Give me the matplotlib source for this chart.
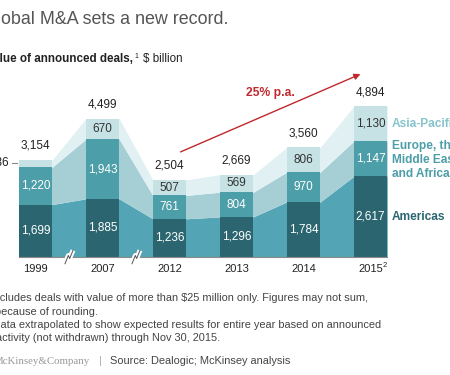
import matplotlib
matplotlib.use("Agg")
import matplotlib.pyplot as plt
import numpy as np
from matplotlib.patches import FancyArrowPatch

plt.rcParams['font.family'] = ['Liberation Sans', 'DejaVu Sans']

years = ["1999", "2007", "2012", "2013", "2014", "2015"]
americas = [1699, 1885, 1236, 1296, 1784, 2617]
emea = [1220, 1943, 761, 804, 970, 1147]
apac = [236, 670, 507, 569, 806, 1130]
totals = [3154, 4499, 2504, 2669, 3560, 4894]
series_names = ["Americas", "Europe, the\nMiddle East\nand Africa", "Asia-Pacific"]

W, H = 450, 375
fig = plt.figure(figsize=(W / 100, H / 100), dpi=100)
fig.patch.set_facecolor("white")

def fpx(x, y):
    return x / W, 1 - y / H

def ftext(x, y, s, **kw):
    fx, fy = fpx(x, y)
    return fig.text(fx, fy, s, **kw)

# axes: bar centres at 35.5 + 67*i px, baseline at 256.7 px, 0.0307 px per unit
left_px, width_px = 2, 402
base_px = 256.7
ymax = 5000
height_px = ymax * 0.0307
ax = fig.add_axes([left_px / W, (H - base_px) / H, width_px / W, height_px / H])
ax.set_xlim(-0.5, 5.5)
ax.set_ylim(0, ymax)
ax.axis("off")

bar_cols = ["#2b6670", "#4c9ea8", "#c6e2e5"]
fill_cols = ["#53a4b4", "#a6cfd5", "#e1f0f2"]

n = len(years)
xc = np.arange(n)
bw = 0.5
a = np.array(americas, float)
e = np.array(emea, float)
p = np.array(apac, float)
layers = [a, a + e, a + e + p]

xs = np.ravel(np.column_stack([xc - bw / 2, xc + bw / 2]))
prev = np.zeros(2 * n)
for k, top in enumerate(layers):
    t = np.repeat(top, 2)
    ax.fill_between(xs, prev, t, color=fill_cols[k], lw=0, zorder=1)
    prev = t

bottoms = [np.zeros(n), a, a + e]
vals = [a, e, p]
for k in range(3):
    ax.bar(xc, vals[k], bottom=bottoms[k], width=bw, color=bar_cols[k], lw=0, zorder=2)

# baseline
ax.plot([-bw / 2, n - 1 + bw / 2], [0, 0], color="#8a8a8a", lw=0.8, zorder=3, clip_on=False)

fs_in = 8.5
for i in range(n):
    ax.text(xc[i], a[i] / 2, f"{americas[i]:,}", ha="center", va="center", color="white", fontsize=fs_in, zorder=4)
    ax.text(xc[i], a[i] + e[i] / 2, f"{emea[i]:,}", ha="center", va="center", color="white", fontsize=fs_in, zorder=4)
    if i > 0:
        ax.text(xc[i], a[i] + e[i] + p[i] / 2, f"{apac[i]:,}", ha="center", va="center", color="#333333",
                fontsize=fs_in, zorder=4)
    ax.annotate(f"{totals[i]:,}", (xc[i], a[i] + e[i] + p[i]), xytext=(0, 10), textcoords="offset points",
                ha="center", va="center", color="#222222", fontsize=fs_in, zorder=4)
    ax.annotate(years[i], (xc[i], 0), xytext=(0, -8.5), textcoords="offset points", ha="center", va="center",
                color="#222222", fontsize=8)
ax.annotate("2", (xc[-1], 0), xytext=(8.5, -6), textcoords="offset points", ha="left", va="center",
            color="#222222", fontsize=5.5)

# 1999 asia-pacific label with leader
ymid = a[0] + e[0] + p[0] / 2
ax.plot([-0.35, -0.27], [ymid, ymid], color="#888888", lw=0.8, clip_on=False)
ax.text(-0.40, ymid, f"{apac[0]:,}", ha="right", va="center", color="#222222", fontsize=fs_in)

# break marks
for xb in [0.5, 1.5]:
    zx = [xb - 0.06, xb - 0.01, xb + 0.01, xb + 0.06]
    zy = [-230, 40, -60, 210]
    ax.plot(zx, zy, color="white", lw=3.5, zorder=5, clip_on=False, solid_capstyle="butt")
    ax.plot(zx, zy, color="#555555", lw=0.7, zorder=6, clip_on=False)

# legend labels on right
ftext(392, 124, series_names[2], color="#86c3cc", fontsize=8.6, fontweight="bold", va="center", ha="left")
ftext(392, 160, series_names[1], color="#4c9ea8", fontsize=8.6, fontweight="bold", va="center", ha="left",
      linespacing=1.22)
ftext(392, 217, series_names[0], color="#2b6670", fontsize=8.6, fontweight="bold", va="center", ha="left")

# arrow
fa = FancyArrowPatch(fpx(178, 153), fpx(363, 73), transform=fig.transFigure, arrowstyle="-|>",
                     mutation_scale=9, color="#c0282d", lw=1.0)
fig.add_artist(fa)
ftext(270, 93, "25% p.a.", color="#c0282d", fontsize=8.7, fontweight="bold", ha="center", va="center")

# titles
ftext(228, 20, "Global M&A sets a new record.", color="#555555", fontsize=12.9, ha="right", va="center")
ftext(133, 59, "Value of announced deals,", color="#222222", fontsize=8.4, fontweight="bold", ha="right", va="center")
ftext(134, 56, "1", color="#222222", fontsize=5, ha="left", va="center")
ftext(143, 59, "$ billion", color="#222222", fontsize=8.4, ha="left", va="center")

# footnotes
fs_fn = 7.9
ftext(368, 298, "\u00b9 Includes deals with value of more than $25 million only. Figures may not sum,",
      color="#444444", fontsize=fs_fn, ha="right", va="center")
ftext(-5, 312, "because of rounding.", color="#444444", fontsize=fs_fn, ha="left", va="center")
ftext(381, 325, "\u00b2 Data extrapolated to show expected results for entire year based on announced",
      color="#444444", fontsize=fs_fn, ha="right", va="center")
ftext(-4.5, 338, "activity (not withdrawn) through Nov 30, 2015.", color="#444444", fontsize=fs_fn, ha="left",
      va="center")

ftext(90, 361, "McKinsey&Company", color="#999999", fontsize=7.8, family=["Liberation Serif", "DejaVu Serif"],
      ha="right", va="center")
ftext(100, 361, "|", color="#aaaaaa", fontsize=7.8, ha="center", va="center")
ftext(110, 361, "Source: Dealogic; McKinsey analysis", color="#444444", fontsize=fs_fn, ha="left", va="center")

fig.savefig("out.png", dpi=100, facecolor="white")
